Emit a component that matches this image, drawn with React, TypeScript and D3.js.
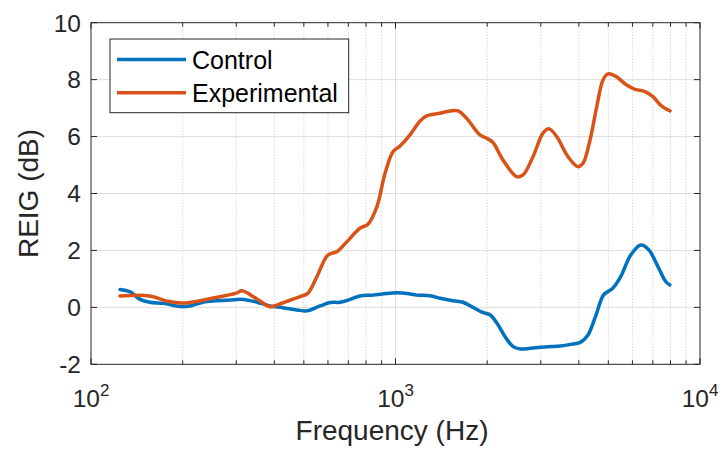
import React, { useRef, useEffect } from "react";
import * as d3 from "d3";

// frequency (Hz) / REIG (dB)
const controlFreq = [124.5, 134, 145, 156, 173, 196, 211, 233, 259, 286, 316, 351, 387, 427, 475, 512, 565, 610, 658, 710, 764, 844, 937, 1011, 1090, 1176, 1298, 1400, 1546, 1666, 1797, 1923, 2043, 2155, 2290, 2434, 2567, 2768, 3150, 3477, 3750, 4046, 4270, 4539, 4826, 5168, 5490, 5924, 6392, 6793, 7276, 7722, 7957];
const controlVals = [0.63, 0.55, 0.28, 0.18, 0.14, 0.03, 0.05, 0.18, 0.23, 0.26, 0.28, 0.18, 0.05, -0.01, -0.09, -0.12, 0.05, 0.17, 0.18, 0.28, 0.4, 0.43, 0.49, 0.51, 0.49, 0.43, 0.41, 0.32, 0.23, 0.18, 0.0, -0.17, -0.26, -0.56, -1.03, -1.38, -1.46, -1.44, -1.38, -1.36, -1.3, -1.23, -1.0, -0.32, 0.44, 0.67, 1.08, 1.84, 2.19, 2.02, 1.43, 0.9, 0.79];

const expFreq = [124.5, 156, 178, 200, 250, 300, 313, 350, 387, 400, 450, 486, 516, 552, 600, 643, 693, 764, 812, 869, 924, 981, 1035, 1116, 1204, 1266, 1400, 1510, 1605, 1713, 1894, 1993, 2090, 2254, 2500, 2623, 2828, 3051, 3193, 3383, 3686, 3974, 4128, 4354, 4580, 4802, 4987, 5259, 5745, 6117, 6598, 7007, 7484, 7970];
const expVals = [0.4, 0.4, 0.22, 0.15, 0.32, 0.5, 0.58, 0.3, 0.02, 0.05, 0.25, 0.38, 0.5, 1.08, 1.84, 1.96, 2.31, 2.78, 2.92, 3.54, 4.71, 5.47, 5.67, 6.06, 6.55, 6.73, 6.82, 6.9, 6.9, 6.64, 6.06, 5.94, 5.79, 5.18, 4.59, 4.65, 5.29, 6.12, 6.27, 6.0, 5.29, 4.94, 5.06, 5.88, 7.05, 7.99, 8.2, 8.13, 7.81, 7.66, 7.58, 7.4, 7.07, 6.9];

const yTicks = [-2, 0, 2, 4, 6, 8, 10];
const xDecades = [2, 3, 4];
const seriesNames = ["Control", "Experimental"];
const seriesColors = ["#0072BD", "#D95319"];

const App = () => {
  const svgRef = useRef(null);

  useEffect(() => {
    const svg = d3.select(svgRef.current);
    svg.selectAll("*").remove();

    const width = 725;
    const height = 458;
    const left = 91;
    const right = 700;
    const top = 22.7;
    const bottom = 364.3;
    const font = "'Liberation Sans', Arial, Helvetica, sans-serif";
    const ink = "#262626";

    svg.attr("width", width).attr("height", height);

    const x = d3.scaleLog().domain([100, 10000]).range([left, right]);
    const y = d3.scaleLinear().domain([-2, 10]).range([bottom, top]);

    // minor grid (dotted) and major grid
    const minors = [];
    for (let d = 100; d < 10000; d *= 10) {
      for (let k = 2; k <= 9; k++) minors.push(d * k);
    }
    svg
      .append("g")
      .selectAll("line")
      .data(minors)
      .enter()
      .append("line")
      .attr("x1", (d) => x(d))
      .attr("x2", (d) => x(d))
      .attr("y1", top)
      .attr("y2", bottom)
      .attr("stroke", "#c8c8c8")
      .attr("stroke-width", 1)
      .attr("stroke-dasharray", "1,2");

    svg
      .append("g")
      .selectAll("line")
      .data(yTicks.slice(1, -1))
      .enter()
      .append("line")
      .attr("x1", left)
      .attr("x2", right)
      .attr("y1", (d) => y(d))
      .attr("y2", (d) => y(d))
      .attr("stroke", "#dedede")
      .attr("stroke-width", 1);

    svg
      .append("line")
      .attr("x1", x(1000))
      .attr("x2", x(1000))
      .attr("y1", top)
      .attr("y2", bottom)
      .attr("stroke", "#dedede")
      .attr("stroke-width", 1);

    // ticks inside the box
    const ticks = svg.append("g").attr("stroke", ink).attr("stroke-width", 1);
    minors.forEach((d) => {
      ticks.append("line").attr("x1", x(d)).attr("x2", x(d)).attr("y1", bottom).attr("y2", bottom - 4);
      ticks.append("line").attr("x1", x(d)).attr("x2", x(d)).attr("y1", top).attr("y2", top + 4);
    });
    xDecades.forEach((e) => {
      const v = Math.pow(10, e);
      ticks.append("line").attr("x1", x(v)).attr("x2", x(v)).attr("y1", bottom).attr("y2", bottom - 6);
      ticks.append("line").attr("x1", x(v)).attr("x2", x(v)).attr("y1", top).attr("y2", top + 6);
    });
    yTicks.forEach((t) => {
      ticks.append("line").attr("x1", left).attr("x2", left + 6).attr("y1", y(t)).attr("y2", y(t));
      ticks.append("line").attr("x1", right).attr("x2", right - 6).attr("y1", y(t)).attr("y2", y(t));
    });

    // curves
    const line = d3
      .line()
      .x((d) => x(d[0]))
      .y((d) => y(d[1]))
      .curve(d3.curveCatmullRom.alpha(0.5));

    const series = [
      controlFreq.map((f, i) => [f, controlVals[i]]),
      expFreq.map((f, i) => [f, expVals[i]]),
    ];
    series.forEach((s, i) => {
      svg
        .append("path")
        .attr("d", line(s))
        .attr("fill", "none")
        .attr("stroke", seriesColors[i])
        .attr("stroke-width", 3.5)
        .attr("stroke-linejoin", "round")
        .attr("stroke-linecap", "round");
    });

    // box
    svg
      .append("rect")
      .attr("x", left)
      .attr("y", top)
      .attr("width", right - left)
      .attr("height", bottom - top)
      .attr("fill", "none")
      .attr("stroke", ink)
      .attr("stroke-width", 1);

    // y tick labels
    svg
      .append("g")
      .selectAll("text")
      .data(yTicks)
      .enter()
      .append("text")
      .attr("x", left - 10)
      .attr("y", (d) => y(d))
      .attr("dy", "0.36em")
      .attr("text-anchor", "end")
      .attr("font-family", font)
      .attr("font-size", 24.5)
      .attr("fill", ink)
      .text((d) => d);

    // x tick labels 10^n
    xDecades.forEach((e) => {
      const t = svg
        .append("text")
        .attr("x", x(Math.pow(10, e)))
        .attr("y", 407)
        .attr("text-anchor", "middle")
        .attr("font-family", font)
        .attr("font-size", 24.5)
        .attr("fill", ink);
      t.append("tspan").text("10");
      t.append("tspan").attr("dy", -11).attr("font-size", 17).text(e);
    });

    // axis labels
    svg
      .append("text")
      .attr("x", 392)
      .attr("y", 440)
      .attr("text-anchor", "middle")
      .attr("font-family", font)
      .attr("font-size", 28)
      .attr("fill", ink)
      .text("Frequency (Hz)");

    svg
      .append("text")
      .attr("transform", `translate(38, ${(top + bottom) / 2}) rotate(-90)`)
      .attr("text-anchor", "middle")
      .attr("font-family", font)
      .attr("font-size", 28)
      .attr("fill", ink)
      .text("REIG (dB)");

    // legend
    const lg = svg.append("g");
    lg.append("rect")
      .attr("x", 110)
      .attr("y", 39)
      .attr("width", 238.7)
      .attr("height", 73.7)
      .attr("fill", "#ffffff")
      .attr("stroke", ink)
      .attr("stroke-width", 1);
    seriesNames.forEach((name, i) => {
      const ly = 59.5 + i * 33.3;
      lg.append("line")
        .attr("x1", 117)
        .attr("x2", 186)
        .attr("y1", ly)
        .attr("y2", ly)
        .attr("stroke", seriesColors[i])
        .attr("stroke-width", 3.5);
      lg.append("text")
        .attr("x", 192)
        .attr("y", ly)
        .attr("dy", "0.36em")
        .attr("font-family", font)
        .attr("font-size", 25)
        .attr("fill", "#000000")
        .text(name);
    });
  }, []);

  return (
    <svg
      ref={svgRef}
      style={{ position: "absolute", left: 0, top: 0, display: "block" }}
    />
  );
};

export default App;
